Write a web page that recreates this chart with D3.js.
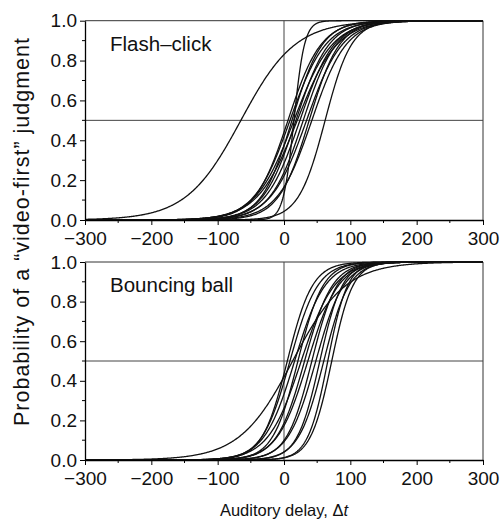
<!DOCTYPE html>
<html>
<head>
<meta charset="utf-8">
<script src="https://cdn.jsdelivr.net/npm/d3@7"></script>
<style>
  body { margin: 0; background: #fff; }
  svg { display: block; font-family: "Liberation Sans", Arial, sans-serif; }
</style>
</head>
<body>
<svg id="chart" width="501" height="520"></svg>
<script>
// tick values
var xTicks = [-300, -200, -100, 0, 100, 200, 300];
var xMinor = [-250, -150, -50, 50, 150, 250];
var yTicks = [0, 0.2, 0.4, 0.6, 0.8, 1.0];
var yMinor = [0.1, 0.3, 0.5, 0.7, 0.9];

// fitted psychometric curves, one per observer: point of subjective simultaneity (ms) and spread (ms)
var flashPSS   = [-65, 15,  6,  9, 12, 15, 18, 20, 24, 29, 34, 38, 42, 62];
var flashWidth = [ 41,  8, 25, 27, 23, 29, 25, 30, 26, 25, 27, 23, 26, 20];
var ballPSS    = [  5,  9, 13, 16, 21, 26, 31, 36, 42, 48, 54, 60, 66, 72];
var ballWidth  = [ 19, 21, 40, 23, 19, 25, 21, 23, 19, 21, 17, 19, 15, 16];

var panels = [
  {label: "Flash\u2013click", pss: flashPSS, width: flashWidth, top: 20.7, bottom: 220},
  {label: "Bouncing ball", pss: ballPSS, width: ballWidth, top: 262, bottom: 460}
];

var svg = d3.select("#chart");
var x = d3.scaleLinear().domain([-300, 300]).range([85, 483]);
var samples = d3.range(-300, 300.5, 1);

panels.forEach(function(p) {
  var y = d3.scaleLinear().domain([0, 1]).range([p.bottom, p.top]);
  var g = svg.append("g");

  // frame (top, right)
  g.append("path")
    .attr("d", "M" + x(-300) + "," + y(1) + "H" + x(300) + "V" + y(0))
    .attr("fill", "none").attr("stroke", "#333").attr("stroke-width", 1);

  // reference lines
  g.append("line").attr("x1", x(0)).attr("x2", x(0)).attr("y1", y(0)).attr("y2", y(1))
    .attr("stroke", "#444").attr("stroke-width", 1);
  g.append("line").attr("x1", x(-300)).attr("x2", x(300)).attr("y1", y(0.5)).attr("y2", y(0.5))
    .attr("stroke", "#444").attr("stroke-width", 1);

  // curves
  var line = d3.line().x(function(d) { return x(d[0]); }).y(function(d) { return y(d[1]); });
  p.pss.forEach(function(m, i) {
    var s = p.width[i];
    var pts = samples.map(function(t) { return [t, 1 / (1 + Math.exp(-(t - m) / s))]; });
    g.append("path").attr("d", line(pts))
      .attr("fill", "none").attr("stroke", "#111").attr("stroke-width", 1.3);
  });

  // axes
  var xa = g.append("g").attr("transform", "translate(0," + p.bottom + ")")
    .call(d3.axisBottom(x).tickValues(xTicks).tickSize(5).tickPadding(7).tickSizeOuter(0));
  xa.append("g").selectAll("line").data(xMinor).join("line")
    .attr("x1", x).attr("x2", x).attr("y1", 0).attr("y2", 3).attr("stroke", "#000");
  var ya = g.append("g").attr("transform", "translate(" + x(-300) + ",0)")
    .call(d3.axisLeft(y).tickValues(yTicks).tickFormat(d3.format(".1f")).tickSize(5).tickPadding(3).tickSizeOuter(0));
  ya.append("g").selectAll("line").data(yMinor).join("line")
    .attr("y1", y).attr("y2", y).attr("x1", 0).attr("x2", -3).attr("stroke", "#000");
  [xa, ya].forEach(function(a) {
    a.selectAll(".domain").attr("stroke", "#000").attr("stroke-width", 1.3);
    a.selectAll("text").attr("font-size", 19).attr("fill", "#111")
      .attr("font-family", "'Liberation Sans', Arial, sans-serif");
  });

  g.append("text").attr("x", 110).attr("y", p.top + 30)
    .attr("font-size", 20.5).attr("fill", "#111").text(p.label);
});

// axis titles
var xt = svg.append("text").attr("x", x(0)).attr("y", 516).attr("text-anchor", "middle")
  .attr("font-size", 16.5).attr("fill", "#111");
xt.append("tspan").text("Auditory delay, \u0394");
xt.append("tspan").attr("font-style", "italic").text("t");

svg.append("text").attr("transform", "translate(29,232) rotate(-90)")
  .attr("text-anchor", "middle").attr("font-size", 21.5).attr("fill", "#111")
  .attr("textLength", 388).attr("lengthAdjust", "spacing")
  .text("Probability of a \u201cvideo-first\u201d judgment");
</script>
</body>
</html>
